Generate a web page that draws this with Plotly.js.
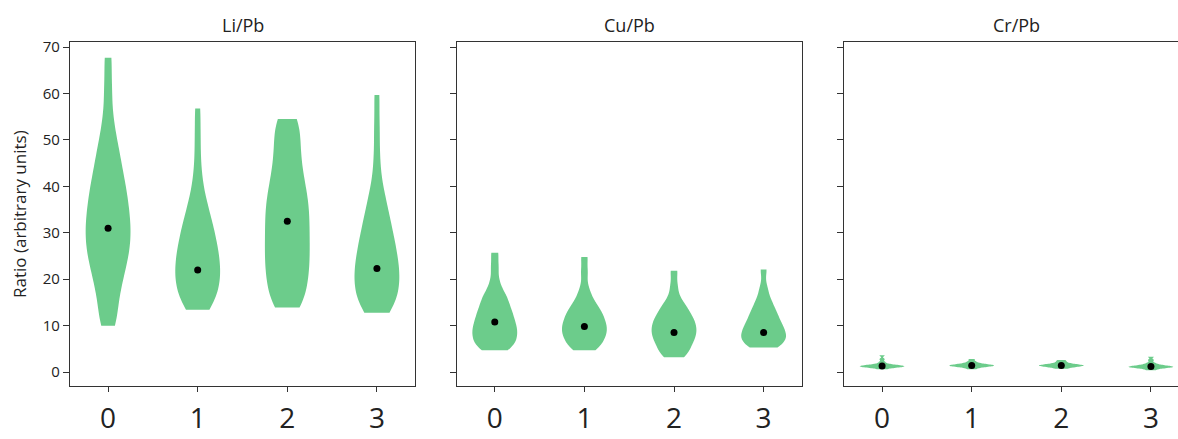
<!DOCTYPE html>
<html>
<head>
<meta charset="utf-8">
<script src="https://cdn.plot.ly/plotly-3.0.1.min.js"></script>
<style>
  html, body { margin: 0; padding: 0; overflow: hidden; background: #fff; }
  #chart { width: 1190px; height: 439px; }
</style>
</head>
<body>
<div id="chart"></div>
<script>
// ---------------- data ----------------
const categories = [0, 1, 2, 3];
const panelTitles = ['Li/Pb', 'Cu/Pb', 'Cr/Pb'];
const yTickValues = [0, 10, 20, 30, 40, 50, 60, 70];
const yAxisTitle = 'Ratio (arbitrary units)';

// estimated samples, one list per category
const liSamples0 = [10.0, 11.9, 14.9, 17.2, 19.1, 20.8, 22.3, 23.6, 24.9, 26.0, 27.1, 28.2, 29.3, 30.3, 31.4, 32.5, 33.6, 34.7, 35.9, 37.2, 38.4, 39.7, 41.1, 42.7, 44.3, 46.3, 48.4, 50.9, 55.0, 61.0, 67.7];
const liSamples1 = [13.4, 14.0, 15.1, 16.0, 17.0, 17.8, 18.6, 19.3, 20.1, 20.9, 21.6, 22.4, 23.2, 24.0, 24.8, 25.6, 26.4, 27.3, 28.3, 29.3, 30.3, 31.3, 32.6, 33.8, 35.4, 37.3, 40.0, 44.5, 50.5, 56.8];
const liSamples2 = [13.9, 14.8, 16.6, 18.1, 19.5, 20.9, 22.2, 23.5, 24.7, 26.0, 27.3, 28.6, 29.9, 31.2, 32.5, 33.8, 35.1, 36.4, 37.7, 39.2, 40.7, 42.4, 44.4, 46.4, 48.6, 50.9, 53.3, 54.5];
const liSamples3 = [12.8, 13.3, 14.3, 15.2, 16.1, 17.0, 17.8, 18.6, 19.4, 20.2, 21.0, 21.8, 22.6, 23.4, 24.3, 25.2, 26.1, 27.0, 28.1, 29.2, 30.3, 31.4, 32.8, 34.4, 35.9, 38.0, 40.7, 46.0, 52.5, 59.7];

const cuSamples0 = [4.7, 5.0, 5.7, 6.2, 6.8, 7.3, 7.8, 8.3, 8.8, 9.3, 9.8, 10.3, 10.9, 11.4, 12.1, 12.7, 13.3, 14.0, 14.8, 15.7, 16.5, 17.5, 19.6, 22.6, 25.7];
const cuSamples1 = [4.7, 5.1, 5.8, 6.5, 7.0, 7.5, 8.0, 8.4, 8.9, 9.4, 9.8, 10.3, 10.7, 11.2, 11.8, 12.4, 12.9, 13.5, 14.1, 15.2, 16.2, 18.2, 21.5, 24.8];
const cuSamples2 = [3.2, 3.7, 4.6, 5.3, 5.9, 6.6, 7.2, 7.6, 8.1, 8.6, 9.1, 9.6, 10.1, 10.6, 11.1, 11.6, 12.2, 13.0, 13.7, 14.5, 15.7, 18.4, 21.8];
const cuSamples3 = [5.3, 5.6, 6.1, 6.6, 7.0, 7.4, 7.8, 8.3, 8.7, 9.2, 9.7, 10.3, 10.8, 11.4, 12.2, 12.9, 13.7, 14.7, 16.0, 18.2, 22.1];

const crSamples0 = [0.6, 0.9, 1.0, 1.1, 1.1, 1.2, 1.2, 1.3, 1.3, 1.4, 1.4, 1.5, 1.6, 1.8, 2.2, 2.8, 3.6];
const crSamples1 = [0.6, 0.9, 1.1, 1.2, 1.3, 1.3, 1.4, 1.4, 1.5, 1.5, 1.6, 1.7, 1.8, 2.0, 2.3, 2.8];
const crSamples2 = [0.7, 0.9, 1.1, 1.2, 1.3, 1.3, 1.4, 1.4, 1.5, 1.5, 1.6, 1.7, 1.8, 2.0, 2.3, 2.6];
const crSamples3 = [0.4, 0.7, 0.9, 1.0, 1.0, 1.1, 1.1, 1.2, 1.2, 1.3, 1.4, 1.5, 1.7, 2.0, 2.6, 3.3];

// means shown as black dots
const liMeans = [31.0, 22.0, 32.5, 22.3];
const cuMeans = [10.8, 9.8, 8.5, 8.5];
const crMeans = [1.3, 1.4, 1.4, 1.2];

// ---------------- build ----------------
const W = 1190, H = 439;
const FILL = 'rgb(108,204,139)';
const TXT = '#222';
const FONT = 'Open Sans, DejaVu Sans, sans-serif';

const panels = [
  { samples: [liSamples0, liSamples1, liSamples2, liSamples3], means: liMeans, bw: 3.5 },
  { samples: [cuSamples0, cuSamples1, cuSamples2, cuSamples3], means: cuMeans, bw: 1.5 },
  { samples: [crSamples0, crSamples1, crSamples2, crSamples3], means: crMeans, bw: 0.22 }
];

const pxDomains = [[70, 415], [456.7, 801.7], [844, 1189]];
const yDom = [(H - 386) / H, (H - 42) / H];

const traces = [];
panels.forEach((p, i) => {
  const xa = i === 0 ? 'x' : 'x' + (i + 1);
  const ya = i === 0 ? 'y' : 'y' + (i + 1);
  p.samples.forEach((s, j) => {
    traces.push({
      type: 'violin',
      y: s,
      x0: categories[j],
      xaxis: xa, yaxis: ya,
      width: 0.5,
      bandwidth: p.bw,
      spanmode: 'hard',
      scalemode: 'width',
      points: false,
      box: { visible: false },
      meanline: { visible: false },
      fillcolor: FILL,
      line: { color: FILL, width: 0 },
      opacity: 1,
      hoverinfo: 'skip',
      showlegend: false
    });
  });
  traces.push({
    type: 'scatter',
    mode: 'markers',
    x: categories,
    y: p.means,
    xaxis: xa, yaxis: ya,
    marker: { color: '#000', size: 7 },
    hoverinfo: 'skip',
    showlegend: false
  });
});

const layout = {
  width: W, height: H,
  margin: { l: 0, r: 0, t: 0, b: 0 },
  paper_bgcolor: '#fff',
  plot_bgcolor: '#fff',
  violinmode: 'overlay',
  showlegend: false,
  font: { family: FONT, color: TXT },
  annotations: []
};

pxDomains.forEach((d, i) => {
  const sx = i === 0 ? '' : String(i + 1);
  layout['xaxis' + sx] = {
    domain: [d[0] / W, d[1] / W],
    anchor: 'y' + sx,
    range: [-0.425, 3.425],
    tickvals: categories,
    ticktext: categories.map(String),
    ticks: 'outside', ticklen: 5, tickwidth: 1, tickcolor: '#333',
    tickfont: { size: 28, color: TXT, family: FONT },
    ticklabelstandoff: 2,
    showline: true, mirror: true, linecolor: '#333', linewidth: 1.2,
    showgrid: false, zeroline: false, fixedrange: true
  };
  layout['yaxis' + sx] = {
    domain: yDom,
    anchor: 'x' + sx,
    range: [-3.0, 71.1],
    tickvals: yTickValues,
    showticklabels: i === 0,
    ticks: 'outside', ticklen: 6, tickwidth: 1, tickcolor: '#333',
    tickfont: { size: 15, color: TXT, family: FONT },
    showline: true, mirror: true, linecolor: '#333', linewidth: 1.2,
    showgrid: false, zeroline: false, fixedrange: true
  };
  layout.annotations.push({
    text: panelTitles[i],
    xref: 'paper', yref: 'paper',
    x: (d[0] + d[1]) / 2 / W, y: (H - 25) / H,
    xanchor: 'center', yanchor: 'middle',
    showarrow: false,
    font: { size: 18, color: TXT, family: FONT }
  });
});

layout.annotations.push({
  text: yAxisTitle,
  xref: 'paper', yref: 'paper',
  x: 20 / W, y: (yDom[0] + yDom[1]) / 2,
  xanchor: 'center', yanchor: 'middle',
  textangle: -90,
  showarrow: false,
  font: { size: 17, color: TXT, family: FONT }
});

Plotly.newPlot('chart', traces, layout, { staticPlot: true, displayModeBar: false });
</script>
</body>
</html>
